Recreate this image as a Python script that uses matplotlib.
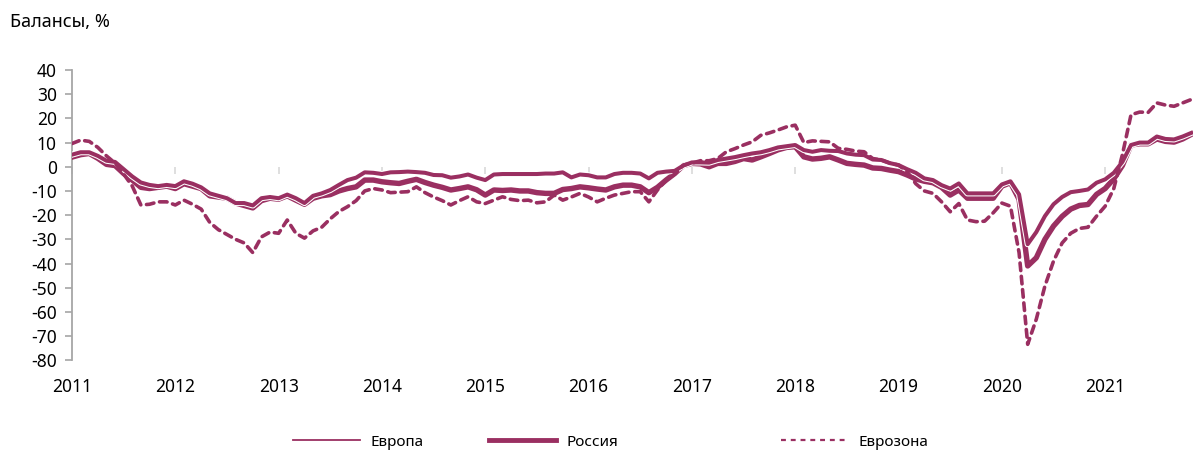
import numpy as np
import matplotlib
matplotlib.use("Agg")
import matplotlib.pyplot as plt
import matplotlib.patheffects as pe
from matplotlib.lines import Line2D

# ---- data (monthly, Jan 2011 .. Nov 2021) ----
start_year = 2011
europe = [5, 6, 6, 4.5, 2.5, 2, -1, -4, -6.5, -7.5, -8, -7.5,
          -8, -6, -7, -8.5, -11, -12, -13, -15, -15, -16, -13, -12.5,
          -13, -11.5, -13, -15, -12, -11, -9.6, -7.5, -5.5, -4.5, -2.3, -2.5,
          -3, -2.3, -2.2, -2, -2.2, -2.5, -3.4, -3.5, -4.5, -4, -3.2, -4.5,
          -5.5, -3.2, -3, -3, -3, -3, -3, -2.8, -2.8, -2.3, -4.4, -3.2,
          -3.5, -4.4, -4.4, -3, -2.5, -2.5, -2.8, -4.8, -2.5, -2, -1.7, 0.5,
          1.8, 1.8, 1.7, 2.8, 3.4, 4, 4.8, 5.5, 6, 6.9, 8, 8.5,
          9, 6.9, 6.2, 6.9, 6.6, 6.5, 5.5, 5, 4.8, 3, 2.8, 1.5,
          0.7, -1, -2.5, -4.8, -5.5, -7.6, -9, -6.9, -11, -11, -11, -11,
          -7.3, -6, -11.4, -32, -27, -20.4, -15.5, -12.5, -10.5, -10, -9.4, -6.6,
          -5.2, -2.5, 2, 9, 10, 10, 12.5, 11.5, 11.3, 12.5, 14]
russia = [4, 5, 5.5, 3.5, 1, 0.5, -2.8, -5.5, -8.5, -9, -8.5, -8,
          -9, -7, -8, -9, -12, -12.5, -13, -15, -16, -17, -14, -13,
          -13.4, -12, -13.8, -15.5, -13, -12, -11.5, -10, -9, -8.3, -5.5, -5.5,
          -6.2, -6.6, -6.9, -6, -5.2, -6.5, -7.6, -8.5, -9.6, -9, -8.3, -9.5,
          -11.7, -9.6, -9.8, -9.6, -10, -10, -10.7, -11, -11, -9.4, -9, -8.3,
          -8.7, -9.2, -9.6, -8.3, -7.6, -7.6, -8.3, -10.7, -8.5, -5.5, -2.8, 0.5,
          1.4, 1.2, 0, 1.4, 1.4, 2.2, 3.4, 2.8, 4.1, 5.5, 7, 8,
          8.3, 4.1, 3.2, 3.5, 4.1, 2.8, 1.4, 1, 0.7, -0.5, -0.7, -1.4,
          -2, -3.4, -5, -6, -6.6, -8.5, -11.7, -9.6, -13, -13, -13, -13,
          -8, -6.6, -13.5, -41, -37.6, -30, -24.5, -20.5, -17.5, -16, -15.6, -11.4,
          -9, -5, 0.5, 9, 9.5, 9.5, 11.5, 10.5, 10.2, 11.5, 13.4]
eurozone = [9.6, 11, 10.5, 8, 4.5, 1.5, -3, -8, -15.8, -15.5, -14.5, -14.5,
            -15.8, -13.8, -15.5, -17.5, -23, -26, -28, -30, -31.5, -35.5, -29, -27,
            -27.5, -22, -27.5, -29.5, -26.5, -25, -21.5, -18.5, -16.5, -14, -10, -9,
            -9.6, -10.7, -10.5, -10.3, -8.3, -10.7, -12.5, -14, -15.8, -14, -12.4, -14.5,
            -15.2, -13.8, -12.4, -13.5, -14, -13.8, -14.9, -14.5, -11.7, -13.8, -12.5, -11,
            -12.5, -14.5, -13, -11.7, -11, -10.3, -10.3, -14.5, -9.6, -5.5, -3, 0.7,
            1.5, 2.5, 2.5, 3.4, 6.2, 7.5, 9, 10.3, 13, 14, 15.2, 16.5,
            17.2, 10, 10.7, 10.5, 10.3, 7.6, 7.2, 6.5, 6.2, 3.4, 2.8, 1.5,
            0.7, -2, -7, -10, -11, -14.5, -18.6, -15.2, -22, -22.7, -22.5, -19,
            -15, -16.3, -35.5, -73.4, -63, -49.3, -39, -31.5, -27.5, -25.5, -25, -20.4,
            -16.3, -9, 5, 21.5, 22.6, 22.5, 26.4, 25.5, 25, 26.4, 27.8]
years = list(range(2011, 2022))
yticks = list(range(-80, 41, 10))
labels = ["Европа", "Россия", "Еврозона"]
title = "Балансы, %"

# ---- styling ----
plt.rcParams['font.family'] = ['Noto Sans', 'DejaVu Sans']
color = "#9A2F61"
grey = "#A6A6A6"
light = "#D9D9D9"

W, H = 1193, 451
fig = plt.figure(figsize=(W / 100, H / 100), dpi=100)
ax = fig.add_axes([72 / W, 90.7 / H, (W - 72) / W, 290.3 / H])

t = start_year + np.arange(len(russia)) / 12.0

ax.plot(t, russia, color=color, lw=3.9, solid_joinstyle='round', zorder=3)
ax.plot(t, europe, color=color, lw=2.9, solid_joinstyle='round', zorder=4,
        path_effects=[pe.Stroke(linewidth=4.4, foreground='white'), pe.Normal()])
ax.plot(t, eurozone, color=color, lw=2.6, linestyle=(0, (2.1, 1.6)),
        dash_capstyle='round', zorder=5)

ax.set_xlim(start_year, start_year + 130.2 / 12)
ax.set_ylim(-80, 40)

for s in ['top', 'right', 'bottom']:
    ax.spines[s].set_visible(False)
ax.spines['left'].set_color(grey)
ax.spines['left'].set_linewidth(1.3)

ax.set_yticks(yticks)
ax.set_yticklabels([str(v) for v in yticks])
ax.tick_params(axis='y', length=5, width=1.2, color=grey, pad=6,
               labelsize=12.5, labelcolor='black')

ax.set_xticks(years)
ax.set_xticklabels([str(y) for y in years])
ax.tick_params(axis='x', length=0, pad=13, labelsize=12.5, labelcolor='black')

# zero axis line with ticks pointing down
zero_frac = (0 - (-80)) / (40 - (-80))
sec = ax.secondary_xaxis(zero_frac)
sec.set_xticks(years)
sec.set_xticklabels([])
sec.tick_params(axis='x', direction='in', length=5, width=1.2, color=light)
sec.spines['bottom'].set_color(light)
sec.spines['bottom'].set_linewidth(1.8)
for s in ['top', 'left', 'right']:
    sec.spines[s].set_visible(False)

fig.text(10 / W, 1 - 22 / H, title, fontsize=13, ha='left', va='center')

# legend (three separately placed entries)
handles = [
    Line2D([], [], color=color, lw=1.3),
    Line2D([], [], color=color, lw=3.5),
    Line2D([], [], color=color, lw=1.6, linestyle=(0, (2.2, 2.2))),
]
xs = [297, 493, 785]
for h, lab, x in zip(handles, labels, xs):
    fig.legend([h], [lab], loc='center left',
               bbox_to_anchor=(x / W - 0.0085, 1 - 442 / H),
               frameon=False, fontsize=11, handlelength=4.4,
               handletextpad=0.7, borderaxespad=0)

fig.savefig("out.png", dpi=100)
